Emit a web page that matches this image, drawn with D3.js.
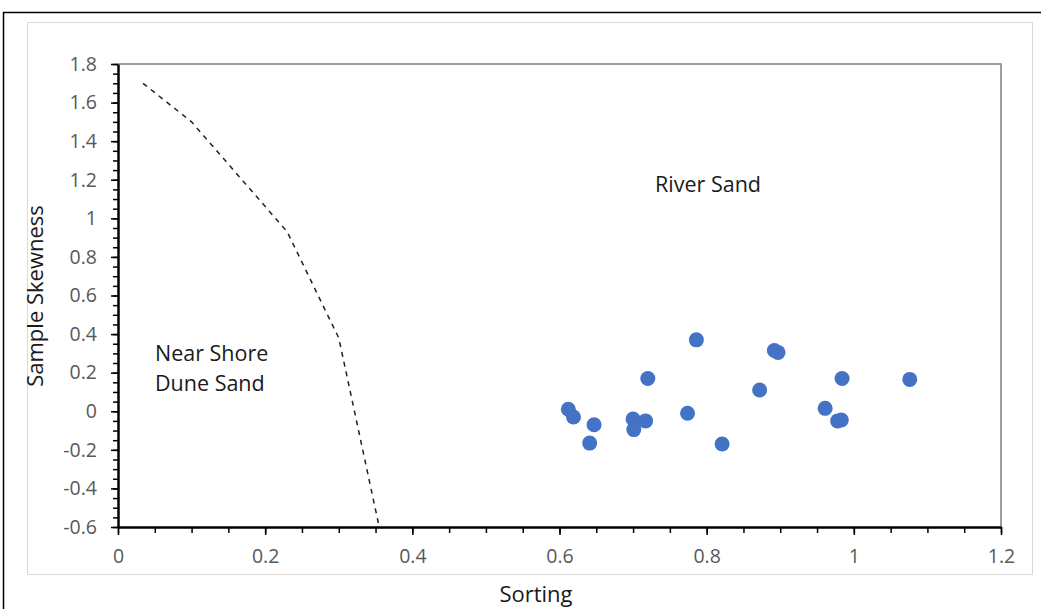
<!DOCTYPE html>
<html>
<head>
<meta charset="utf-8">
<script src="https://cdn.jsdelivr.net/npm/d3@7"></script>
<style>
  body { margin: 0; background: #fff; }
  svg { display: block; }
</style>
</head>
<body>
<div id="chart"></div>
<script>
// sample points (sorting, skewness)
var sorting  = [0.612, 0.619, 0.647, 0.641, 0.700, 0.701, 0.717, 0.720, 0.786, 0.774,
                0.821, 0.872, 0.892, 0.897, 0.961, 0.978, 0.983, 0.984, 1.076]
var skewness = [0.01, -0.03, -0.07, -0.165, -0.04, -0.095, -0.05, 0.17, 0.37, -0.01,
                -0.17, 0.11, 0.315, 0.305, 0.015, -0.05, -0.045, 0.17, 0.165]

// dashed boundary line between the two fields
var boundaryX = [0.034, 0.10, 0.23, 0.30, 0.355]
var boundaryY = [1.70, 1.50, 0.93, 0.38, -0.60]

var xTicks = [0, 0.2, 0.4, 0.6, 0.8, 1, 1.2]
var yTicks = [-0.6, -0.4, -0.2, 0, 0.2, 0.4, 0.6, 0.8, 1, 1.2, 1.4, 1.6, 1.8]

var width = 1041, height = 609
var plot = {left: 118, right: 1001, top: 64, bottom: 527}

// plain hyphen for negatives, like the original
var fmt = d => String(+d.toFixed(1))

var svg = d3.select("#chart")
  .append("svg")
    .attr("width", width)
    .attr("height", height)

// outer frame + chart area border
svg.append("rect")
  .attr("x", 27.5).attr("y", 22.5)
  .attr("width", 1005).attr("height", 552)
  .attr("fill", "none").attr("stroke", "#d9d9d9")
svg.append("path")
  .attr("d", "M3.5," + height + "V12.5H" + width)
  .attr("fill", "none").attr("stroke", "#000").attr("stroke-width", 1.5)

var x = d3.scaleLinear().domain([0, 1.2]).range([plot.left, plot.right])
var y = d3.scaleLinear().domain([-0.6, 1.8]).range([plot.bottom, plot.top])

// top and right border of plot
svg.append("path")
  .attr("d", "M" + plot.left + "," + plot.top + "H" + plot.right + "V" + plot.bottom)
  .attr("fill", "none").attr("stroke", "#7f7f7f").attr("stroke-width", 1.5)

// minor ticks
var xMinor = d3.range(0, 1.2001, 0.05)
var yMinor = d3.range(-0.6, 1.8001, 0.05)

svg.append("g")
  .attr("transform", "translate(0," + plot.bottom + ")")
  .call(d3.axisBottom(x).tickValues(xMinor).tickSize(6).tickFormat(""))
  .call(g => g.select(".domain").remove())
  .selectAll("line").attr("stroke", "#000").attr("stroke-width", 1.5)

svg.append("g")
  .attr("transform", "translate(" + plot.left + ",0)")
  .call(d3.axisLeft(y).tickValues(yMinor).tickSize(5).tickFormat(""))
  .call(g => g.select(".domain").remove())
  .selectAll("line").attr("stroke", "#000").attr("stroke-width", 1.5)

// major axes
var xAxis = svg.append("g")
  .attr("transform", "translate(0," + plot.bottom + ")")
  .call(d3.axisBottom(x).tickValues(xTicks).tickSize(8).tickSizeOuter(0).tickPadding(14).tickFormat(fmt))
xAxis.select(".domain").attr("stroke", "#000").attr("stroke-width", 2.5)
xAxis.selectAll("line").attr("stroke", "#000").attr("stroke-width", 1.5)
xAxis.selectAll("text")
  .style("font-family", "'Open Sans', sans-serif").style("font-size", "19.5px").attr("fill", "#595959")

var yAxis = svg.append("g")
  .attr("transform", "translate(" + plot.left + ",0)")
  .call(d3.axisLeft(y).tickValues(yTicks).tickSize(7).tickSizeOuter(0).tickPadding(14).tickFormat(fmt))
yAxis.select(".domain").attr("stroke", "#000").attr("stroke-width", 2.5)
yAxis.selectAll("line").attr("stroke", "#000").attr("stroke-width", 1.5)
yAxis.selectAll("text")
  .style("font-family", "'Open Sans', sans-serif").style("font-size", "19.5px").attr("fill", "#595959")

// boundary line
var line = d3.line()
  .x(d => x(d[0]))
  .y(d => y(d[1]))
svg.append("path")
  .datum(d3.zip(boundaryX, boundaryY))
  .attr("d", line)
  .attr("fill", "none")
  .attr("stroke", "#222")
  .attr("stroke-width", 1.5)
  .attr("stroke-dasharray", "5,5")

// points
svg.selectAll("circle.pt")
  .data(d3.zip(sorting, skewness))
  .enter()
  .append("circle")
    .attr("class", "pt")
    .attr("cx", d => x(d[0]))
    .attr("cy", d => y(d[1]))
    .attr("r", 7.5)
    .attr("fill", "#4472c4")

// annotations
var font = "'Open Sans', sans-serif"
svg.append("text")
  .attr("x", 708).attr("y", 192)
  .attr("text-anchor", "middle")
  .style("font-family", font).style("font-size", "21.5px").attr("fill", "#1a1a1a")
  .text("River Sand")

var near = svg.append("text")
  .attr("x", 155).attr("y", 361)
  .style("font-family", font).style("font-size", "21.5px").attr("fill", "#1a1a1a")
near.append("tspan").attr("x", 155).text("Near Shore")
near.append("tspan").attr("x", 155).attr("dy", 30).text("Dune Sand")

// axis titles
svg.append("text")
  .attr("x", 536).attr("y", 602)
  .attr("text-anchor", "middle")
  .style("font-family", font).style("font-size", "22px").attr("fill", "#1a1a1a")
  .text("Sorting")

svg.append("text")
  .attr("transform", "translate(43,296) rotate(-90)")
  .attr("text-anchor", "middle")
  .style("font-family", font).style("font-size", "22px").attr("fill", "#1a1a1a")
  .text("Sample Skewness")
</script>
</body>
</html>
